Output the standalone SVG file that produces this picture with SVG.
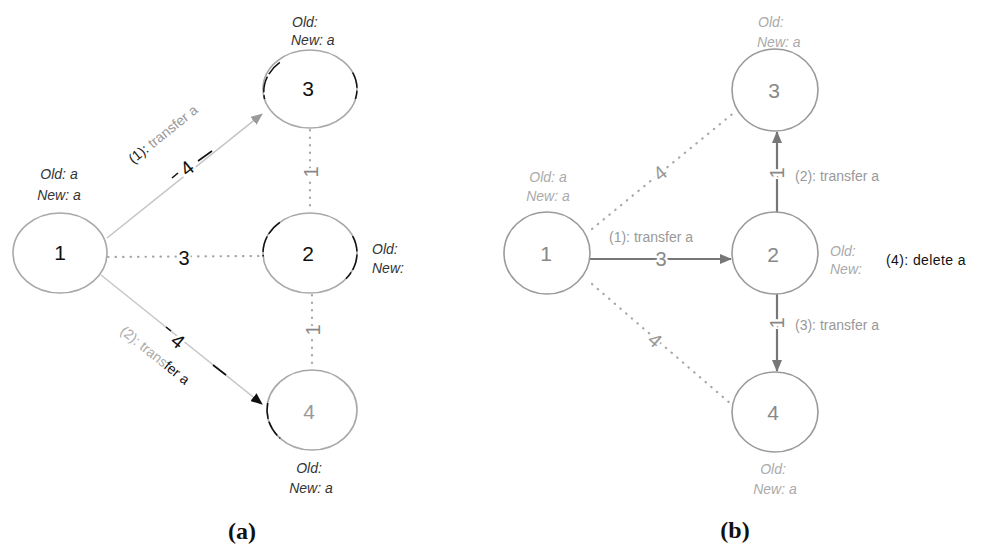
<svg xmlns="http://www.w3.org/2000/svg" width="984" height="550" viewBox="0 0 984 550">
<style>
.node{fill:none;stroke:#a8a8a8;stroke-width:1.6}
.nb{fill:none;stroke:#9a9a9a;stroke-width:1.6}
.num{font-family:"Liberation Sans",Arial,sans-serif;font-size:21px;text-anchor:middle;dominant-baseline:central}
.st{font-family:"Liberation Sans",Arial,sans-serif;font-size:14px;font-style:italic}
.lbl{font-family:"Liberation Sans",Arial,sans-serif;font-size:14px}
.el{font-family:"Liberation Sans",Arial,sans-serif;font-size:20px;text-anchor:middle;dominant-baseline:central;paint-order:stroke;stroke:#fff;stroke-width:5}
.dot{fill:none;stroke:#a8a8a8;stroke-width:2.2;stroke-dasharray:0.5 7;stroke-linecap:round}
.arc{fill:none;stroke:#111;stroke-width:1.5;stroke-dasharray:16 3}
.cap{font-family:"Liberation Serif","Times New Roman",serif;font-size:24px;font-weight:bold;text-anchor:middle}
</style>
<defs>
<marker id="ag" markerUnits="userSpaceOnUse" markerWidth="12" markerHeight="10" refX="11" refY="5" orient="auto"><path d="M0,0 L12,5 L0,10 Z" fill="#9a9a9a"/></marker>
<marker id="ak" markerUnits="userSpaceOnUse" markerWidth="12" markerHeight="10" refX="11" refY="5" orient="auto"><path d="M0,0 L12,5 L0,10 Z" fill="#111"/></marker>
<marker id="ad" markerUnits="userSpaceOnUse" markerWidth="12" markerHeight="10" refX="11" refY="5" orient="auto"><path d="M0,0 L12,5 L0,10 Z" fill="#777"/></marker>
</defs>

<!-- Panel (a) connectors -->
<g id="edges-a">
  <line class="dot" x1="108" y1="257" x2="262" y2="256"/>
  <line class="dot" x1="310" y1="130" x2="310" y2="212"/>
  <line class="dot" x1="312" y1="295" x2="312" y2="369"/>
  <line x1="107" y1="238" x2="262" y2="114" stroke="#c4c4c4" stroke-width="1.6" marker-end="url(#ag)"/>
  <line x1="101" y1="275" x2="262" y2="404" stroke="#c8c8c8" stroke-width="1.6" marker-end="url(#ak)"/>
  <line x1="172" y1="178" x2="178" y2="173" stroke="#111" stroke-width="1.6"/>
  <line x1="198" y1="161" x2="212" y2="151" stroke="#111" stroke-width="1.6"/>
  <line x1="166" y1="327" x2="171" y2="331" stroke="#111" stroke-width="1.6"/>
  <line x1="213" y1="365" x2="226" y2="375" stroke="#111" stroke-width="1.6"/>
  <text class="el" x="187" y="168" fill="#111" transform="rotate(-38.7 187 168)">4</text>
  <text class="el" x="184" y="258" fill="#111">3</text>
  <text class="el" x="311" y="172" fill="#888" transform="rotate(-90 311 172)">1</text>
  <text class="el" x="313" y="330" fill="#888" transform="rotate(-90 313 330)">1</text>
  <text class="el" x="178" y="341" fill="#111" transform="rotate(38.7 178 341)">4</text>
  <text class="lbl" x="166" y="138" text-anchor="middle" font-size="13.5" fill="#999" transform="rotate(-38.7 166 138)"><tspan fill="#222">(1):</tspan> transfer a</text>
  <text class="lbl" x="152" y="359" text-anchor="middle" font-size="14" fill="#aaa" transform="rotate(38.8 152 359)">(2): trans<tspan fill="#111">fer a</tspan></text>
</g>

<!-- Panel (a) nodes -->
<g id="a-node1">
  <ellipse class="node" cx="60" cy="253" rx="47" ry="40"/>
  <text class="num" x="60" y="252" fill="#111">1</text>
  <text class="st" x="59" y="179" text-anchor="middle" fill="#333">Old: a</text>
  <text class="st" x="59" y="200" text-anchor="middle" fill="#333">New: a</text>
</g>
<g id="a-node3">
  <ellipse class="node" cx="310" cy="89" rx="47" ry="39"/>
  <path class="arc" d="M279.8,62.4 A47,39 0 0 0 264.6,99.1"/>
  <path class="arc" d="M352.6,72.5 A47,39 0 0 1 355.4,99.1" stroke-dasharray="none"/>
  <text class="num" x="308" y="88" fill="#111">3</text>
  <text class="st" x="292" y="27" fill="#333">Old:</text>
  <text class="st" x="291" y="45" fill="#333">New: a</text>
</g>
<g id="a-node2">
  <ellipse class="node" cx="310" cy="253" rx="47" ry="40"/>
  <path class="arc" d="M279.8,222.4 A47,40 0 0 0 263.2,256.5"/>
  <path class="arc" d="M352.6,236.1 A47,40 0 0 1 346,278.7" stroke-dasharray="none"/>
  <text class="num" x="308" y="253" fill="#111">2</text>
  <text class="st" x="372" y="254" fill="#333">Old:</text>
  <text class="st" x="372" y="273" fill="#333">New:</text>
</g>
<g id="a-node4">
  <ellipse class="node" cx="312" cy="410" rx="45" ry="40"/>
  <path class="arc" d="M267.7,403 A45,40 0 0 0 280.2,438.3" stroke-dasharray="none"/>
  <text class="num" x="309" y="411" fill="#999">4</text>
  <text class="st" x="309" y="473" text-anchor="middle" fill="#333">Old:</text>
  <text class="st" x="311" y="493" text-anchor="middle" fill="#333">New: a</text>
</g>
<text class="cap" x="242" y="539" fill="#111">(a)</text>

<!-- Panel (b) connectors -->
<g id="edges-b">
  <line class="dot" x1="592" y1="229" x2="736" y2="111"/>
  <line class="dot" x1="592" y1="284" x2="731" y2="404"/>
  <line x1="590" y1="259" x2="731" y2="259" stroke="#777" stroke-width="2.2" marker-end="url(#ad)"/>
  <line x1="777" y1="212" x2="777" y2="132" stroke="#777" stroke-width="2.2" marker-end="url(#ad)"/>
  <line x1="777" y1="294" x2="777" y2="371" stroke="#777" stroke-width="2.2" marker-end="url(#ad)"/>
  <text class="el" x="661" y="259" fill="#888">3</text>
  <text class="el" x="660" y="173" fill="#999" transform="rotate(-39 660 173)">4</text>
  <text class="el" x="655" y="340" fill="#999" transform="rotate(40.7 655 340)">4</text>
  <text class="el" x="777" y="173" fill="#888" transform="rotate(-90 777 173)">1</text>
  <text class="el" x="777" y="323" fill="#888" transform="rotate(-90 777 323)">1</text>
  <text class="lbl" x="609" y="242" font-size="14.5" fill="#999">(1): transfer a</text>
  <text class="lbl" x="795" y="181" font-size="14.5" fill="#999">(2): transfer a</text>
  <text class="lbl" x="795" y="330" font-size="14.5" fill="#999">(3): transfer a</text>
</g>

<!-- Panel (b) nodes -->
<g id="b-node1">
  <ellipse class="nb" cx="547" cy="253" rx="43" ry="41"/>
  <text class="num" x="546" y="253" fill="#888">1</text>
  <text class="st" x="548" y="182" text-anchor="middle" fill="#aaa">Old: a</text>
  <text class="st" x="548" y="201" text-anchor="middle" fill="#aaa">New: a</text>
</g>
<g id="b-node3">
  <ellipse class="nb" cx="775" cy="90" rx="43" ry="41"/>
  <text class="num" x="774" y="90" fill="#888">3</text>
  <text class="st" x="758" y="27" fill="#aaa">Old:</text>
  <text class="st" x="757" y="47" fill="#aaa">New: a</text>
</g>
<g id="b-node2">
  <ellipse class="nb" cx="775" cy="253" rx="43" ry="41"/>
  <text class="num" x="773" y="254" fill="#888">2</text>
  <text class="st" x="830" y="256" fill="#aaa">Old:</text>
  <text class="st" x="830" y="274" fill="#aaa">New:</text>
  <text class="lbl" x="886" y="265" font-size="16" fill="#111" letter-spacing="0.4">(4): delete a</text>
</g>
<g id="b-node4">
  <ellipse class="nb" cx="775" cy="412" rx="43" ry="40"/>
  <text class="num" x="773" y="412" fill="#888">4</text>
  <text class="st" x="773" y="474" text-anchor="middle" fill="#aaa">Old:</text>
  <text class="st" x="775" y="494" text-anchor="middle" fill="#aaa">New: a</text>
</g>
<text class="cap" x="735" y="538" fill="#111">(b)</text>
</svg>
